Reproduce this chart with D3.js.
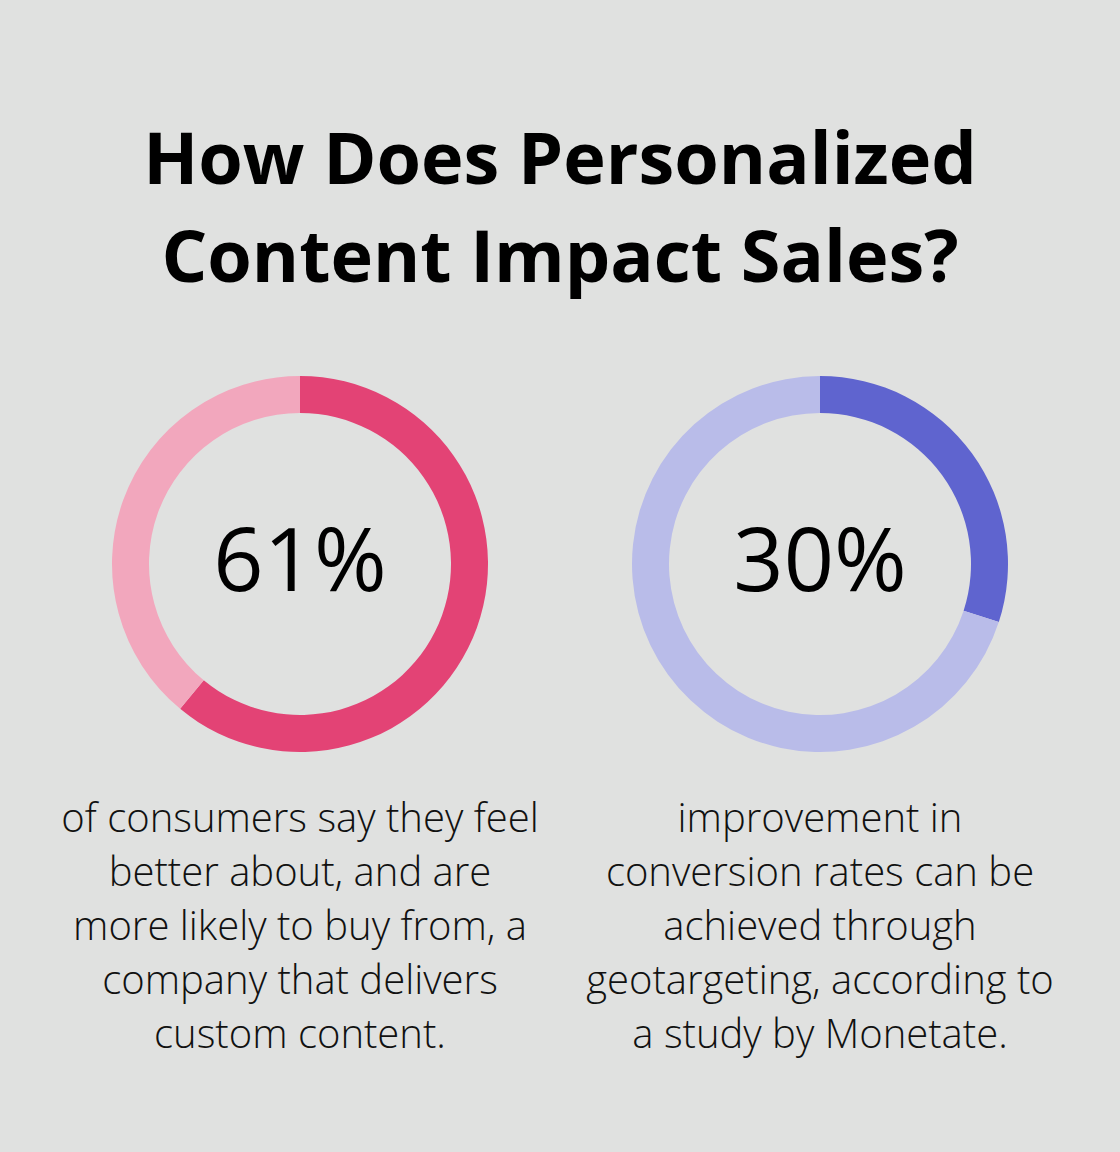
<!DOCTYPE html>
<html>
<head>
<meta charset="utf-8">
<script src="https://cdn.jsdelivr.net/npm/d3@7"></script>
<style>
  html, body { margin: 0; padding: 0; background: #e0e1e0; }
  svg { display: block; }
</style>
</head>
<body>
<svg id="chart" width="1120" height="1152"></svg>
<script>
// data
var titleLines = ["How Does Personalized", "Content Impact Sales?"];
var percents = [61, 30];
var labels = ["61%", "30%"];
var mainColors = ["#e34375", "#5f64cf"];
var restColors = ["#f2a7bd", "#b9bce9"];
var captions = [
  ["of consumers say they feel", "better about, and are", "more likely to buy from, a", "company that delivers", "custom content."],
  ["improvement in", "conversion rates can be", "achieved through", "geotargeting, according to", "a study by Monetate."]
];

var svg = d3.select("#chart");

svg.append("rect")
    .attr("width", 1120)
    .attr("height", 1152)
    .attr("fill", "#e0e1e0");

// title
svg.append("g").selectAll("text")
    .data(titleLines)
    .enter().append("text")
    .attr("x", 560)
    .attr("y", function(d, i) { return 184 + i * 98; })
    .attr("text-anchor", "middle")
    .attr("font-family", "'Open Sans', sans-serif")
    .attr("font-weight", 700)
    .attr("font-size", 72)
    .attr("fill", "#000")
    .text(function(d) { return d; });

// one column per stat
var x = d3.scalePoint().domain(d3.range(percents.length)).range([300, 820]);

var pie = d3.pie().sort(null);
var arc = d3.arc().innerRadius(151).outerRadius(188);

percents.forEach(function(p, i) {
    var g = svg.append("g")
        .attr("transform", "translate(" + x(i) + ",564)");

    g.selectAll("path")
        .data(pie([p, 100 - p]))
        .enter().append("path")
        .attr("d", arc)
        .attr("fill", function(d, j) { return j === 0 ? mainColors[i] : restColors[i]; });

    g.append("text")
        .attr("y", 27)
        .attr("text-anchor", "middle")
        .attr("font-family", "'Open Sans', sans-serif")
        .attr("font-size", 88)
        .attr("fill", "#000")
        .text(labels[i]);

    svg.append("g").selectAll("text")
        .data(captions[i])
        .enter().append("text")
        .attr("x", x(i))
        .attr("y", function(d, k) { return 832 + k * 54; })
        .attr("text-anchor", "middle")
        .attr("font-family", "'Open Sans', sans-serif")
        .attr("font-weight", 300)
        .attr("font-size", 40)
        .attr("fill", "#111")
        .text(function(d) { return d; });
});
</script>
</body>
</html>
